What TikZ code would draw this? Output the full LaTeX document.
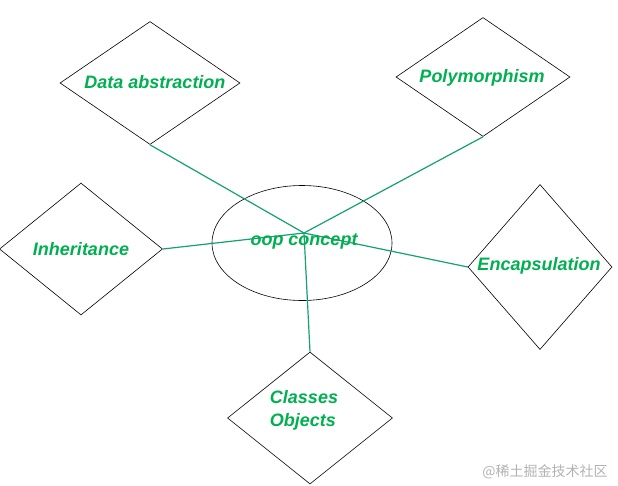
\documentclass[tikz,border=0pt]{standalone}
\usepackage{fontspec}
\setmainfont{Liberation Sans}
\newfontfamily\cjkfont{Noto Sans CJK SC}
\usepackage{xcolor}
\usetikzlibrary{shapes.geometric}

\definecolor{txtgreen}{RGB}{0,176,80}
\definecolor{linkgreen}{RGB}{20,160,115}

\begin{document}
\begin{tikzpicture}[x=1pt, y=-1pt, line width=0.6pt,
    attr/.style={draw, diamond, inner sep=0pt},
    concept/.style={draw, ellipse, inner sep=0pt, minimum width=180pt, minimum height=115pt},
    lbl/.style={text=txtgreen, font=\fontsize{18}{23}\selectfont\bfseries\itshape, inner sep=0pt},
    link/.style={draw=linkgreen, line width=1.2pt}]

\useasboundingbox (0,0) rectangle (618,485);

\node[attr, minimum width=180pt, minimum height=123pt] (da) at (150,83) {};
\node[attr, minimum width=174pt, minimum height=119pt] (poly) at (483,77) {};
\node[attr, minimum width=163pt, minimum height=132pt] (inh) at (81,249) {};
\node[attr, minimum width=144pt, minimum height=165pt] (enc) at (540,267) {};
\node[attr, minimum width=165pt, minimum height=132pt] (cls) at (310,418) {};
\node[concept] (oop) at (302,243) {};

\coordinate (hub) at (304,233);

\draw[link] (hub) -- (da.south);
\draw[link] (hub) -- (poly.south);
\draw[link] (hub) -- (inh.east);
\draw[link] (hub) -- (enc.west);
\draw[link] (hub) -- (cls.north);

\node[lbl] (da-t) at (155,82) {Data abstraction};
\node[lbl] (poly-t) at (482,78) {Polymorphism};
\node[lbl] (inh-t) at (81,249) {Inheritance};
\node[lbl] (enc-t) at (539,266) {Encapsulation};
\node[lbl, align=left] (cls-t) at (304,410) {Classes\\Objects};
\node[lbl] (oop-t) at (304,241) {oop concept};

\node[text=black!30, font=\cjkfont\fontsize{14}{16}\selectfont, inner sep=0pt] (mark) at (545,472) {@稀土掘金技术社区};
\end{tikzpicture}
\end{document}
